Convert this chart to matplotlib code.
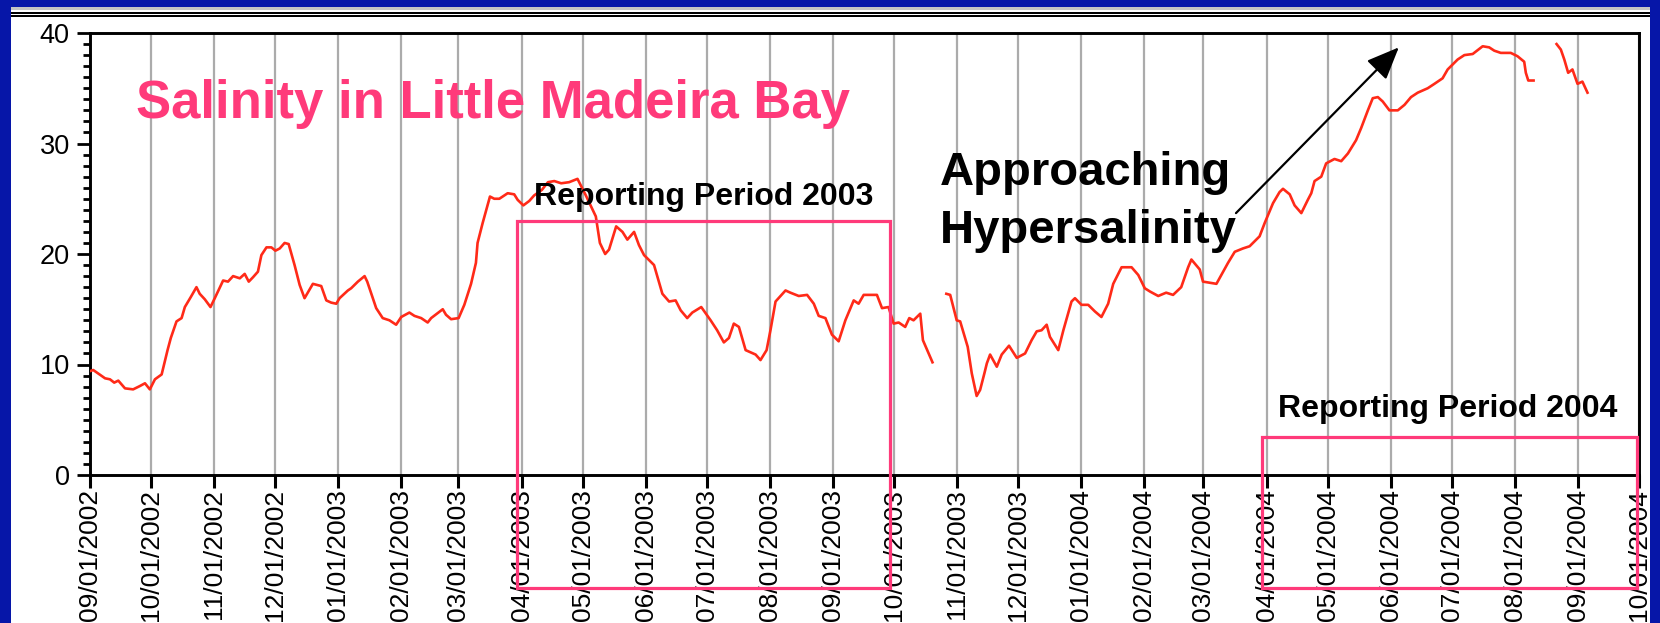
import numpy as np
import pandas as pd
import matplotlib
matplotlib.use('Agg')
import matplotlib.pyplot as plt
import matplotlib.dates as mdates
from matplotlib.patches import Rectangle, FancyArrowPatch
from matplotlib.ticker import MultipleLocator

plt.rcParams['font.family'] = ['Liberation Sans', 'DejaVu Sans']

# ---------------- data ----------------
start_date = '2002-09-01'
end_date = '2004-10-01'
# days since 2002-09-01
days = [0, 1.6, 7.4, 9.8, 11.9, 13.9, 17.2, 21.2, 24.5, 27.0, 29.4, 31.9, 35.2, 38.1, 39.7,
        42.5, 45.0, 46.6, 49.5, 52.3, 53.9, 56.4, 59.2, 61.3, 65.4, 67.8, 70.3, 73.6, 76.0,
        78.0, 80.1, 82.5, 84.2, 86.7, 89.1, 91.1, 93.2, 95.6, 97.6, 100.5, 103.0, 105.4,
        109.5, 113.6, 116.1, 118.5, 121.0, 122.6, 126.7, 128.3, 131.6, 134.9, 136.2, 138.2,
        140.6, 143.8, 147.1, 150.4, 152.9, 156.9, 159.4, 162.7, 165.9, 167.6, 173.3, 174.9,
        177.4, 181.1, 183.9, 187.2, 189.6, 190.4, 192.9, 196.5, 198.6, 201.1, 205.2, 208.4,
        210.1, 212.9, 215.8, 218.2, 222.0, 225.0, 228.1, 231.5, 235.4, 239.5, 243.6, 248.5,
        250.5, 253.1, 255.0, 258.5, 261.6, 264.0, 267.3, 269.7, 272.2, 277.1, 281.2, 284.5,
        287.7, 290.2, 293.4, 295.9, 300.3, 304.9, 308.1, 311.4, 313.9, 316.3, 318.8, 322.1,
        324.5, 327.0, 329.4, 332.4, 334.3, 336.8, 341.7, 344.1, 348.2, 352.3, 355.6, 358.0,
        361.3, 364.5, 367.8, 371.1, 375.2, 377.6, 380.1, 386.6, 389.1, 392.3, 394.8, 397.3,
        400.5, 402.5, 404.6, 407.9, 409.2, 411.1, 413.9, 417.0,
        420.7, 422.6, 425.8, 427.5, 431.2, 433.2, 435.6, 437.3, 439.4, 440.6, 442.2, 445.5,
        447.9, 451.5, 455.3, 459.4, 462.6, 465.1, 467.5, 470.0, 471.6, 475.7, 478.2, 482.2,
        483.9, 487.1, 490.4, 493.7, 496.9, 500.2, 502.7, 506.8, 511.7, 515.0, 518.2, 520.8,
        524.8, 528.7, 532.1, 536.1, 539.5, 541.1, 545.2, 546.8, 553.4, 559.1, 562.4, 566.4,
        569.7, 574.6, 577.1, 581.2, 584.4, 586.1, 589.4, 591.8, 595.1, 598.3, 600.0, 601.6,
        604.9, 607.3, 611.4, 614.7, 618.0, 622.0, 624.5, 627.8, 630.2, 632.7, 635.1, 638.4,
        642.5, 645.8, 649.0, 652.3, 657.2, 660.5, 664.5, 667.0, 671.9, 675.2, 679.3, 684.2,
        687.4, 689.9, 693.1, 698.0, 701.3, 704.6, 705.4, 706.6, 709.2, 715.0,
        720.5, 722.6, 724.3, 726.2, 728.3, 730.8, 733.2, 735.7]
salinity = [9.4, 9.5, 8.75, 8.66, 8.36, 8.54, 7.84, 7.75, 8.05, 8.3, 7.75, 8.66, 9.1, 11.3, 12.4,
            13.9, 14.2, 15.2, 16.1, 17.0, 16.4, 15.9, 15.2, 16.0, 17.6, 17.5, 18.0, 17.8, 18.2,
            17.5, 17.9, 18.4, 19.9, 20.6, 20.6, 20.3, 20.5, 21.0, 20.9, 19.0, 17.2, 16.0,
            17.3, 17.1, 15.8, 15.6, 15.5, 16.0, 16.7, 16.9, 17.5, 18.0, 17.5, 16.4,
            15.1, 14.2, 14.0, 13.6, 14.3, 14.7, 14.4, 14.2, 13.8, 14.2, 15.0, 14.5,
            14.1, 14.2, 15.4, 17.3, 19.2, 21.0, 22.8, 25.2, 25.0, 25.0, 25.5, 25.4,
            24.9, 24.4, 24.8, 25.3, 25.8, 26.5, 26.6, 26.4, 26.5, 26.8, 25.3, 23.4,
            21.0, 20.0, 20.4, 22.5, 22.0, 21.3, 22.0, 20.8, 19.9, 19.0, 16.4, 15.7,
            15.8, 14.9, 14.2, 14.7, 15.2, 14.0, 13.1, 12.0, 12.4, 13.7, 13.4, 11.3,
            11.1, 10.9, 10.4, 11.3, 13.1, 15.7, 16.7, 16.5, 16.2, 16.3, 15.5, 14.4,
            14.2, 12.7, 12.1, 14.0, 15.8, 15.5, 16.3, 16.3, 15.1, 15.2, 13.7, 13.8,
            13.4, 14.2, 14.0, 14.6, 12.2, 11.4, 10.2, np.nan,
            16.4, 16.3, 14.0, 13.9, 11.6, 9.2, 7.15, 7.7, 9.2, 10.1, 10.9, 9.8,
            10.9, 11.7, 10.6, 11.0, 12.2, 13.0, 13.1, 13.6, 12.5, 11.3, 13.1, 15.7,
            16.0, 15.4, 15.4, 14.8, 14.3, 15.5, 17.3, 18.8, 18.8, 18.1, 16.9, 16.6,
            16.2, 16.5, 16.3, 17.0, 18.8, 19.5, 18.6, 17.5, 17.3, 19.2, 20.2, 20.5,
            20.7, 21.6, 22.8, 24.6, 25.6, 25.9, 25.4, 24.4, 23.7, 24.9, 25.5, 26.6,
            27.0, 28.2, 28.6, 28.4, 29.1, 30.3, 31.4, 33.0, 34.1, 34.2, 33.8, 33.0,
            33.0, 33.5, 34.2, 34.6, 35.0, 35.4, 35.9, 36.7, 37.6, 38.0, 38.1, 38.8,
            38.7, 38.4, 38.2, 38.2, 37.9, 37.4, 36.4, 35.7, 35.7, np.nan,
            39.0, 38.5, 37.6, 36.4, 36.7, 35.4, 35.6, 34.6]
assert len(days) == len(salinity)

title_text = 'Salinity in Little Madeira Bay'
period_2003_text = 'Reporting Period 2003'
period_2004_text = 'Reporting Period 2004'
note_lines = ['Approaching', 'Hypersalinity']
y_ticks = [0, 10, 20, 30, 40]

# ---------------- figure ----------------
W, H = 1660, 623
BLUE = '#0616A8'
PINK = '#FF3A7A'
RED = '#FF2A18'

fig = plt.figure(figsize=(W / 100, H / 100), dpi=100)
fig.patch.set_facecolor(BLUE)


def fx(px):
    return px / W


def fy(py):
    return 1 - py / H


def frect(x0, y0, x1, y1, color, z):
    fig.add_artist(Rectangle((fx(x0), fy(y1)), fx(x1) - fx(x0), fy(y0) - fy(y1),
                             transform=fig.transFigure, facecolor=color,
                             edgecolor='none', zorder=z))


# white slide panel and the ruled lines on top
frect(11, 7, 1650, H, 'white', -5)
frect(11, 7, 1650, 10, '#C4C4C4', -4)
frect(11, 12, 1650, 13.5, 'black', -4)
frect(11, 15.2, 1650, 16.8, 'black', -4)

ax = fig.add_axes([fx(90), fy(475), fx(1639) - fx(90), fy(33) - fy(475)])
ax.set_facecolor('none')

t0 = pd.Timestamp(start_date)
x = t0 + pd.to_timedelta(days, unit='D')
ax.plot(x, salinity, color=RED, lw=1.9, zorder=3, solid_joinstyle='round')

ax.set_xlim(t0, pd.Timestamp(end_date))
ax.set_ylim(0, 40)
ax.xaxis.set_major_locator(mdates.MonthLocator())
ax.xaxis.set_major_formatter(mdates.DateFormatter('%m/%d/%Y'))
ax.set_yticks(y_ticks)
ax.yaxis.set_minor_locator(MultipleLocator(1))
ax.grid(axis='x', color='#ABABAB', lw=1.6)
ax.set_axisbelow(True)

for s in ax.spines.values():
    s.set_linewidth(2.1)
    s.set_color('black')

ax.tick_params(axis='x', which='major', direction='out', length=9, width=2.2,
               labelsize=19, pad=1, labelrotation=90)
ax.tick_params(axis='y', which='major', direction='out', length=9.5, width=2.0,
               labelsize=19.5, pad=5)
ax.tick_params(axis='y', which='minor', direction='out', length=5, width=2.0)


def dnum(d):
    return mdates.date2num(t0 + pd.Timedelta(days=d))


# reporting period boxes (extend below the axis)
for (d0, d1, y0, y1) in [(210, 393, -10.2, 23.0), (575.6, 759.9, -10.2, 3.47)]:
    ax.add_patch(Rectangle((dnum(d0), y0), dnum(d1) - dnum(d0), y1 - y0,
                           facecolor='none', edgecolor=PINK, lw=2.3,
                           clip_on=False, zorder=6))

# arrow
ax.add_patch(FancyArrowPatch((dnum(563), 23.7), (dnum(643), 38.7),
                             arrowstyle='-|>,head_length=1.0,head_width=0.42',
                             mutation_scale=20, lw=1.6, color='black',
                             shrinkA=0, shrinkB=0, clip_on=False, zorder=7))

# texts
fig.text(fx(136), fy(118), title_text, color=PINK, fontsize=38, fontweight='bold',
         ha='left', va='baseline', zorder=8)
fig.text(fx(534), fy(205), period_2003_text, color='black', fontsize=23,
         fontweight='bold', ha='left', va='baseline', zorder=8)
fig.text(fx(1278), fy(417), period_2004_text, color='black', fontsize=23,
         fontweight='bold', ha='left', va='baseline', zorder=8)
fig.text(fx(940), fy(185), note_lines[0], color='black', fontsize=34,
         fontweight='bold', ha='left', va='baseline', zorder=8)
fig.text(fx(940), fy(243), note_lines[1], color='black', fontsize=34,
         fontweight='bold', ha='left', va='baseline', zorder=8)

# blue frame on top
frect(0, 0, W, 7, BLUE, 20)
frect(0, 0, 11, H, BLUE, 20)
frect(1650, 0, W, H, BLUE, 20)

fig.savefig('out.png', dpi=100, facecolor=fig.get_facecolor())
